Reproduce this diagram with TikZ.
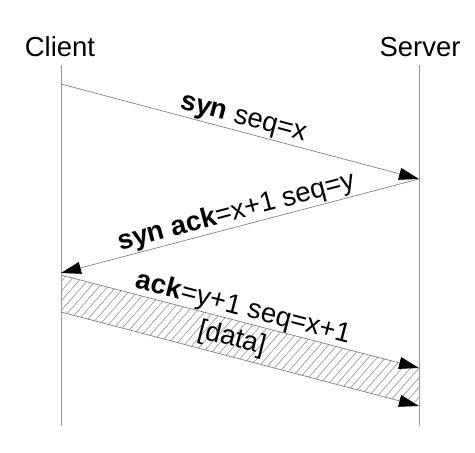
\documentclass[tikz,border=0pt]{standalone}
\usepackage{fontspec}
\setmainfont{Liberation Sans}
\usetikzlibrary{arrows.meta}
\tikzset{
  life/.style={draw=gray!80, line width=0.7pt},
  msg/.style={draw=gray, line width=0.7pt, -{Triangle[length=20pt,width=12pt,black]}},
  lbl/.style={font=\fontsize{27.5}{30}\selectfont, sloped, inner sep=1pt},
  head/.style={font=\fontsize{27.5}{30}\selectfont, inner sep=0pt},
  hatch/.style={draw=gray!75, line width=0.7pt}
}
\begin{document}
\begin{tikzpicture}[x=1pt,y=-1pt]
\useasboundingbox (0,0) rectangle (475,453);
\node[head] (client) at (60,47) {Client};
\node[head] (server) at (420,47) {Server};
\coordinate (ctop) at (61,65);
\coordinate (cbot) at (61,426);
\coordinate (stop) at (419,65);
\coordinate (sbot) at (419,426);
\coordinate (c1) at (61,84);
\coordinate (s1) at (419,179);
\coordinate (c2) at (61,273);
\coordinate (c3) at (61,275);
\coordinate (s3) at (419,368);
\coordinate (c4) at (61,312);
\coordinate (s4) at (419,406);
% hatched band
\begin{scope}
\clip (c3) -- (s3) -- (s4) -- (c4) -- cycle;
\foreach \i in {0,8.5,...,560} {
  \draw[hatch] (\i-60,420) -- (\i+80,260);
}
\end{scope}
\draw[life] (ctop) -- (cbot);
\draw[life] (stop) -- (sbot);
\draw[msg] (c1) -- node[lbl, above, pos=0.5] {\textbf{syn} seq=x} (s1);
\draw[msg] (s1) -- node[lbl, above, pos=0.5] {\textbf{syn ack}=x+1 seq=y} (c2);
\draw[msg] (c3) -- node[lbl, above, pos=0.5, inner sep=0pt] {\textbf{ack}=y+1 seq=x+1} (s3);
\draw[msg] (c4) -- (s4);
\path (c3) -- node[lbl, pos=0.49, yshift=-19pt] (data) {[data]} (s3);
\end{tikzpicture}
\end{document}
